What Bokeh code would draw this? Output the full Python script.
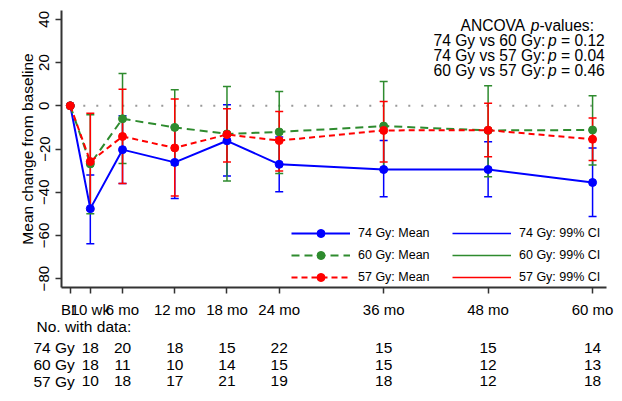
from bokeh.plotting import figure
from bokeh.models import (ColumnDataSource, FixedTicker, Legend, LegendItem, Label, Range1d)
from bokeh.layouts import column
from bokeh.core.properties import value
from bokeh.embed import file_html
from bokeh.resources import INLINE

# ---------------- data ----------------
visit_months = [0, 2.3, 6, 12, 18, 24, 36, 48, 60]
visit_labels = ["BL", "10 wk", "6 mo", "12 mo", "18 mo", "24 mo", "36 mo", "48 mo", "60 mo"]
ci_months = visit_months[1:]

mean_74 = [0, -47.6, -20.3, -26.2, -16.2, -27.1, -29.5, -29.5, -35.5]
upper_74 = [-32.0, -4.6, -9.5, 0.5, -14.4, -16.1, -16.6, -19.5]
lower_74 = [-63.9, -36.0, -42.9, -32.5, -39.8, -42.1, -42.1, -51.2]

mean_60 = [0, -26.9, -6.0, -10.0, -13.0, -12.1, -9.4, -11.4, -11.2]
upper_60 = [-4.1, 15.0, 7.4, 8.9, 6.6, 11.2, 9.3, 4.7]
lower_60 = [-50.0, -26.7, -27.4, -34.8, -31.3, -30.0, -32.8, -27.4]

mean_57 = [0, -25.8, -14.2, -19.5, -13.3, -16.1, -11.4, -11.3, -15.5]
upper_57 = [-3.4, 7.7, 3.1, -1.4, -2.6, 2.0, 1.2, -5.7]
lower_57 = [-48.2, -36.0, -41.7, -26.0, -30.2, -26.0, -23.6, -25.3]

n_74 = [18, 20, 18, 15, 22, 15, 15, 14]
n_60 = [18, 11, 10, 14, 15, 15, 12, 13]
n_57 = [10, 18, 17, 21, 19, 18, 12, 18]

group_names = ["74 Gy", "60 Gy", "57 Gy"]
pvalue_pairs = ["74 Gy vs 60 Gy:", "74 Gy vs 57 Gy:", "60 Gy vs 57 Gy:"]
pvalues = ["0.12", "0.04", "0.46"]

# ---------------- styles ----------------
FONT = "Liberation Sans"
colors = ["#0000ff", "#2e8b2e", "#ff0000"]
dashes = ["solid", "8 5", "6 4"]
AXC = "#333333"

W = 622
B_LEFT, B_RIGHT = 61, 16
X0, X1 = -1.01, 61.6

p = figure(width=W, height=320, output_backend="svg", toolbar_location=None,
           x_range=Range1d(X0, X1), y_range=Range1d(-84.1, 44.1),
           min_border_left=B_LEFT, min_border_right=B_RIGHT, min_border_top=10,
           min_border_bottom=31)
p.frame_align = False
p.grid.visible = False
p.outline_line_color = None

p.xaxis.ticker = FixedTicker(ticks=visit_months)
p.xaxis.major_label_overrides = {m: l for m, l in zip(visit_months, visit_labels)}
p.yaxis.ticker = FixedTicker(ticks=[-80, -60, -40, -20, 0, 20, 40])
p.yaxis.major_label_orientation = "vertical"
p.yaxis.axis_label = "Mean change from baseline"
p.yaxis.axis_label_text_font = FONT
p.yaxis.axis_label_text_font_size = "15.5px"
p.yaxis.axis_label_text_font_style = "normal"
p.yaxis.axis_label_text_color = "black"
p.yaxis.axis_label_standoff = 1
for ax in (p.xaxis[0], p.yaxis[0]):
    ax.axis_line_width = 2
    ax.axis_line_color = AXC
    ax.major_tick_line_width = 1.5
    ax.major_tick_line_color = AXC
    ax.major_tick_out = 6
    ax.major_tick_in = 0
    ax.minor_tick_line_color = None
    ax.major_label_text_font = FONT
    ax.major_label_text_font_size = "15px"
    ax.major_label_text_color = "black"
p.yaxis.major_label_standoff = 6
p.xaxis.major_label_standoff = 7

# zero reference line
p.line([visit_months[0], visit_months[-1]], [0, 0], line_color="#999999",
       line_width=2, line_dash="2 11")

means = [mean_74, mean_60, mean_57]
uppers = [upper_74, upper_60, upper_57]
lowers = [lower_74, lower_60, lower_57]

segs = []
for up, lo, c in zip(uppers, lowers, colors):
    src = ColumnDataSource(dict(x=ci_months, upper=up, lower=lo))
    s = p.segment(x0="x", y0="lower", x1="x", y1="upper", source=src,
                  line_color=c, line_width=1.5)
    p.scatter(x="x", y="upper", source=src, marker="dash", size=8,
              line_color=c, line_width=1.5)
    p.scatter(x="x", y="lower", source=src, marker="dash", size=8,
              line_color=c, line_width=1.5)
    segs.append(s)

lines = []
for m, c, d in zip(means, colors, dashes):
    lines.append(p.line(visit_months, m, line_color=c, line_width=2, line_dash=d))
marks = []
for m, c in zip(means, colors):
    marks.append(p.scatter(visit_months, m, size=8, fill_color=c, line_color=c))

def style_legend(leg):
    leg.glyph_width = 59
    leg.glyph_height = 20
    leg.label_height = 20
    leg.label_standoff = 8
    leg.padding = 0
    leg.spacing = 2
    leg.margin = 0
    leg.border_line_color = None
    leg.background_fill_alpha = 0
    leg.label_text_font = FONT
    leg.label_text_font_size = "12.5px"
    leg.label_text_color = "black"

leg1 = Legend(items=[LegendItem(label=f"{g}: Mean", renderers=[l, mk])
                     for g, l, mk in zip(group_names, lines, marks)],
              location=(230, 0))
leg2 = Legend(items=[LegendItem(label=f"{g}: 99% CI", renderers=[s])
                     for g, s in zip(group_names, segs)],
              location=(391, 0))
style_legend(leg1)
style_legend(leg2)
p.add_layout(leg1)
p.add_layout(leg2)

# ---------------- ANCOVA annotation ----------------
FS = 15.6

def add_pieces(pieces, x0, y):
    x = x0
    for text, style, em in pieces:
        p.add_layout(Label(x=x, y=y, x_units="screen", y_units="screen", text=text,
                           text_font=FONT, text_font_size=f"{FS}px", text_font_style=style,
                           text_color="black", text_align="left",
                           text_baseline="alphabetic"))
        x += em * FS

add_pieces([("ANCOVA", "normal", 4.501), ("p", "italic", 0.556),
            ("-values:", "normal", 3.5)], 399, 261.7)
for i, (pair, pv) in enumerate(zip(pvalue_pairs, pvalues)):
    add_pieces([(pair, "normal", 7.336), ("p", "italic", 0.834),
                ("= " + pv, "normal", 2.808)], 372, 246.7 - 15 * i)

# ---------------- table of numbers (separate strip sharing the x mapping) ----------------
OVERLAP = 9
TH = 81 + OVERLAP
span = (X1 - X0) / (W - B_LEFT - B_RIGHT)
t = figure(width=W, height=TH, output_backend="svg", toolbar_location=None,
           x_range=Range1d(X0 - B_LEFT * span, X1 + B_RIGHT * span),
           y_range=Range1d(0, TH), x_axis_location=None, y_axis_location=None,
           min_border_left=0, min_border_right=0, min_border_top=0, min_border_bottom=0)
t.frame_align = False
t.margin = (-OVERLAP, 0, 0, 0)
t.grid.visible = False
t.outline_line_color = None
t.background_fill_alpha = 0
t.border_fill_alpha = 0

TFS = "15.5px"
t.add_layout(Label(x=36, y=75.3, x_units="screen", y_units="screen",
                   text="No. with data:", text_font=FONT, text_font_size=TFS,
                   text_color="black", text_baseline="alphabetic"))
row_y = [53.7, 37.0, 20.3]
for g, n, yy in zip(group_names, [n_74, n_60, n_57], row_y):
    t.add_layout(Label(x=33, y=yy, x_units="screen", y_units="screen",
                       text=g, text_font=FONT, text_font_size=TFS,
                       text_color="black", text_baseline="alphabetic"))
    t.text(x=ci_months, y=[yy] * len(ci_months), text=[str(v) for v in n],
           text_font=value(FONT), text_font_size=value(TFS), text_color="black",
           text_align="center", text_baseline="alphabetic")

layout = column(p, t, spacing=0)
open("out.html", "w").write(file_html(layout, INLINE))
